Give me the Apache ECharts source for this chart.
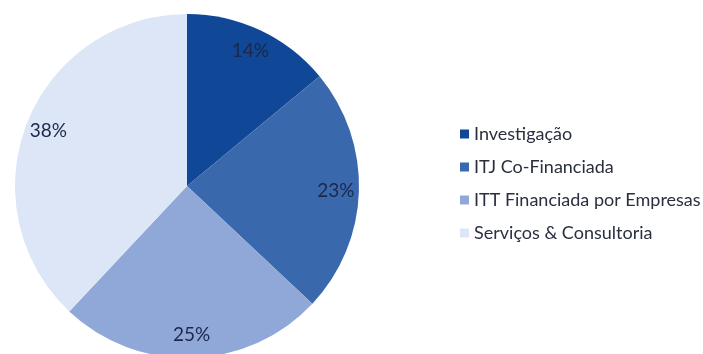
<!DOCTYPE html>
<html>
<head>
<meta charset="utf-8">
<script src="https://cdn.jsdelivr.net/npm/echarts@6/dist/echarts.min.js"></script>
<style>
  html, body { margin: 0; padding: 0; background: #ffffff; }
  #chart { width: 703px; height: 354px; }
</style>
</head>
<body>
<div id="chart"></div>
<script>
// Funding breakdown by activity type (percent)
const categories = ['Investigação', 'ITJ Co-Financiada', 'ITT Financiada por Empresas', 'Serviços & Consultoria'];
const shares = [14, 23, 25, 38];
const sliceColors = ['#104796', '#3a68ad', '#8fa8d8', '#dce6f6'];

const pieData = categories.map((name, i) => ({
  name: name,
  value: shares[i],
  itemStyle: { color: sliceColors[i] }
}));

const chart = echarts.init(document.getElementById('chart'), null, { renderer: 'canvas' });

chart.setOption({
  animation: false,
  backgroundColor: '#ffffff',
  legend: {
    orient: 'vertical',
    left: 455,
    top: 119,
    icon: 'rect',
    itemWidth: 9,
    itemHeight: 9,
    itemGap: 13,
    data: categories.map((name, i) => ({ name: name, itemStyle: { color: sliceColors[i] } })),
    textStyle: {
      fontFamily: 'Lato',
      fontSize: 18,
      lineHeight: 20,
      color: '#2a2f3e'
    }
  },
  series: [
    {
      // the pie itself
      type: 'pie',
      center: [187, 186],
      radius: 172,
      startAngle: 90,
      clockwise: true,
      silent: true,
      label: { show: false },
      labelLine: { show: false },
      data: pieData
    },
    {
      // transparent ring carrying the percentage labels near the outer edge
      type: 'pie',
      center: [187, 186],
      radius: [122, 170],
      startAngle: 90,
      clockwise: true,
      silent: true,
      legendHoverLink: false,
      itemStyle: { color: 'rgba(0,0,0,0)' },
      label: {
        show: true,
        position: 'inside',
        formatter: '{c}%',
        fontFamily: 'Lato',
        fontSize: 19,
        color: '#1c284a'
      },
      labelLine: { show: false },
      data: categories.map((name, i) => ({ name: name, value: shares[i] }))
    }
  ]
});
</script>
</body>
</html>
